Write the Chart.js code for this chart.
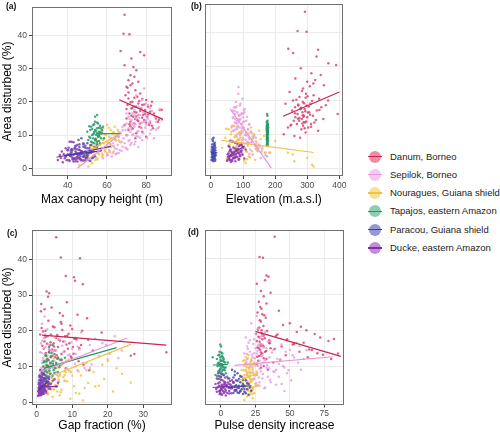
<!DOCTYPE html>
<html>
<head>
<meta charset="utf-8">
<script src="https://cdn.jsdelivr.net/npm/chart.js@4.4.1/dist/chart.umd.min.js"></script>
<style>
  body { margin: 0; background: #fff; width: 500px; height: 434px; position: relative; overflow: hidden;
         font-family: "Liberation Sans", Arial, Helvetica, sans-serif; }
  canvas { position: absolute; }
  .tag { position: absolute; font-weight: bold; font-size: 8.5px; color: #111; line-height: 10px; }
  .key { position: absolute; width: 12px; height: 12px; border-radius: 50%; }
  .key i { position: absolute; left: -1px; right: -1px; top: 5.4px; height: 1.2px; }
  .lab { position: absolute; font-size: 9.5px; color: #222; line-height: 12px; white-space: nowrap; }
</style>
</head>
<body>
<canvas id="pa" width="176" height="210" style="left:0;top:0"></canvas>
<canvas id="pb" width="172" height="210" style="left:176px;top:0"></canvas>
<canvas id="pc" width="176" height="224" style="left:0;top:210px"></canvas>
<canvas id="pd" width="172" height="224" style="left:176px;top:210px"></canvas>
<div class="tag" style="left:6px;top:1px">(a)</div>
<div class="tag" style="left:191px;top:1px">(b)</div>
<div class="tag" style="left:7px;top:228px">(c)</div>
<div class="tag" style="left:188px;top:227px">(d)</div>
<div id="legend"></div>
<script>
// ---- sites ----
var siteNames = ['Danum, Borneo', 'Sepilok, Borneo', 'Nouragues, Guiana shield',
                 'Tapajos, eastern Amazon', 'Paracou, Guiana shield', 'Ducke, eastern Amazon'];
var pointColors = ['rgba(214,60,104,0.8)', 'rgba(233,160,228,0.85)', 'rgba(242,198,72,0.85)',
                   'rgba(40,155,108,0.85)', 'rgba(72,78,174,0.85)', 'rgba(140,60,176,0.85)'];
var lineColors = ['#c5274f', '#e596dc', '#efc340', '#1f9865', '#3a3ea6', '#7c2ea6'];
var keyFills = ['#eb8ea3', '#f4c9f0', '#f8e09a', '#8fcdb2', '#9699d1', '#c38dd6'];

// area disturbed (%) — shared y for every panel; x arrays line up with it
var danumY = [46.2, 40.5, 40.3, 35.3, 35.0, 34.0, 33.0, 31.0, 30.5, 29.5, 28.0, 27.5, 26.5, 25.5, 25.0,
  24.5, 23.5, 22.5, 22.0, 21.5, 21.0, 20.5, 20.0, 20.0, 19.5, 19.0, 19.0, 18.5, 18.5, 18.0, 18.0, 17.5,
  17.5, 17.0, 17.0, 16.5, 16.5, 16.0, 16.0, 15.5, 15.5, 15.0, 15.0, 14.5, 14.5, 14.0, 14.0, 13.5, 13.5,
  13.0, 13.0, 12.5, 12.0, 12.0, 11.5, 11.0, 10.5, 10.0, 9.5, 9.0,
  22.8, 21.2, 20.2, 19.8, 19.2, 18.8, 18.2, 17.8, 17.2, 16.8, 16.2, 15.8, 15.2, 14.8, 14.2, 13.8, 13.2,
  12.8, 12.2, 11.8, 17.6, 16.4, 15.6, 18.6, 14.6, 20.8, 24.2, 26.0, 13.6, 12.6];
var danumHeight = [69, 68.5, 71.5, 67, 77, 79, 72.5, 69, 73.5, 75, 72, 74, 71, 73, 72, 70, 74.5, 77, 69.5,
  75.5, 71, 80, 83, 73, 76, 78, 70.5, 81, 75, 77.5, 72.5, 79.5, 87, 74, 82, 71.5, 84, 76, 78.5, 73.5, 80.5,
  70, 85, 75.5, 79, 72, 86, 77, 74, 81.5, 69, 76.5, 73, 83.5, 71, 78, 75, 70, 80, 74.5,
  71, 74, 76.5, 72, 79, 82.5, 73, 70, 77, 75, 81, 72.5, 78, 74.5, 76, 80, 71.5, 83, 77.5, 73,
  88, 79.5, 75, 74, 86.5, 78, 70.5, 76, 82, 72];
var danumElev = [293, 270, 298, 241, 334, 256, 329, 366, 390, 280, 313, 342, 263, 300, 319, 352, 287, 245,
  296, 320, 276, 337, 256, 365, 286, 310, 232, 272, 298, 344, 262, 292, 279, 330, 253, 306, 285, 270, 395,
  290, 318, 263, 300, 283, 350, 275, 258, 322, 293, 268, 312, 287, 240, 303, 282, 334, 295, 227, 260, 278,
  284, 301, 266, 315, 290, 272, 305, 281, 338, 294, 262, 309, 288, 276, 327, 297, 285, 250, 312, 292,
  280, 302, 286, 358, 271, 295, 308, 325, 289, 248];
var danumGap = [5.5, 6.8, 12.2, 8.2, 10.5, 10.8, 13.0, 2.8, 3.5, 3.2, 8.5, 1.3, 4.2, 1.2, 6.5, 11.5, 14.2,
  6.8, 7.0, 9.5, 5.0, 10.0, 12.8, 2.5, 18.3, 4.0, 1.0, 8.0, 3.0, 5.5, 11.0, 6.2, 14.5, 2.2, 7.5, 9.2, 4.8,
  12.5, 3.8, 6.0, 10.2, 2.0, 8.8, 5.2, 15.8, 3.5, 36.5, 27.5, 7.0, 26.5, 4.5, 9.8, 2.8, 6.5, 11.8, 4.0,
  13.2, 2.5, 8.2, 14.8,
  3.3, 4.6, 7.2, 1.8, 9.0, 5.8, 2.4, 10.6, 6.6, 3.9, 8.4, 1.6, 12.0, 4.4, 7.8, 2.6, 5.6, 9.6, 3.1, 6.9,
  11.2, 2.9, 4.9, 8.6, 3.6, 1.4, 7.4, 2.2, 10.4, 5.2];
var danumPulse = [39, 28, 30.5, 33, 34.5, 32, 26, 29, 36, 31, 27.5, 33, 28.5, 42, 26.5, 30, 32.5, 29, 50,
  45, 58, 27, 62, 29.5, 55, 25.5, 68, 31, 40, 72, 28, 48, 30, 78, 26, 35, 60, 29, 52, 31, 44, 27.5, 36, 66,
  28.5, 57, 32, 85, 30, 47, 29, 63, 33, 80, 27, 38, 26, 31, 29, 34,
  28.2, 30.8, 26.8, 33.5, 29.6, 41, 27.2, 31.8, 35, 28, 53, 30.2, 26.4, 39, 32.8, 29, 74, 27.6, 31, 43,
  82, 35.5, 28.8, 30, 64, 27.8, 31.5, 29.4, 70, 26.2];

var sepilokY = [22.0, 20.5, 19.5, 18.5, 18.0, 17.5, 17.0, 16.5, 16.0, 16.0, 15.5, 15.0, 15.0, 14.5, 14.0,
  14.0, 13.5, 13.5, 13.0, 13.0, 12.5, 12.5, 12.0, 12.0, 11.5, 11.5, 11.0, 11.0, 10.5, 10.5, 10.0, 10.0,
  9.5, 9.5, 9.0, 9.0, 8.5, 8.5, 8.0, 8.0, 7.5, 7.5, 7.0, 7.0, 6.5, 6.5, 6.0, 6.0, 5.5, 5.5, 5.0, 5.0,
  4.5, 4.0, 3.5, 3.0, 12.0, 14.5, 9.0, 16.5,
  19.0, 18.2, 17.2, 16.8, 16.2, 15.8, 15.2, 14.8, 14.2, 13.8, 13.2, 12.8, 12.2, 11.8, 11.2, 10.8, 10.2,
  9.8, 9.2, 8.8, 8.2, 7.8, 7.2, 6.8, 6.2, 5.8, 5.2, 4.8, 4.2, 3.8, 17.8, 15.6, 13.6, 11.6, 9.6, 7.6, 5.6,
  12.4, 10.4, 8.4, 14.4, 6.4, 16.0, 11.4, 9.4, 24.0, 4.6, 13.4, 10.6, 7.4];
var sepilokHeight = [75, 78, 80, 76, 82, 74, 79, 73, 84, 77, 71, 81, 75, 72.5, 79, 85, 70, 76.5, 73.5, 80,
  68, 74, 77.5, 71, 69.5, 82.5, 72, 75.5, 67, 78.5, 70.5, 73, 66, 76, 68.5, 80.5, 64.5, 71.5, 67.5, 74.5,
  63, 69, 65.5, 72, 62, 68, 64, 70, 61, 66.5, 63.5, 59, 65, 60.5, 62.5, 58, 86, 88, 84, 70,
  81, 77, 83, 78.5, 74, 80, 76.5, 71.5, 82, 78, 74.5, 69, 79.5, 72.5, 76, 66.5, 73.5, 70, 77, 64,
  71, 67, 74, 63.5, 69.5, 65, 67.5, 61.5, 64.5, 60, 87, 84.5, 81.5, 85, 75, 72.5, 70.5, 86.5, 82, 78,
  80, 76, 76, 68, 66, 79, 66, 73, 63, 61.5];
var sepilokElev = [85, 98, 78, 90, 72, 105, 68, 82, 95, 75, 88, 100, 70, 92, 80, 110, 86, 74, 96, 120, 84,
  66, 102, 90, 78, 115, 95, 70, 88, 125, 82, 108, 76, 135, 92, 118, 86, 100, 128, 80, 112, 142, 96, 150,
  88, 138, 104, 160, 122, 92, 145, 110, 168, 130, 175, 155, 64, 76, 140, 104,
  92, 80, 102, 74, 96, 86, 112, 68, 90, 104, 78, 118, 84, 98, 72, 124, 92, 106, 80, 132,
  96, 114, 88, 138, 102, 148, 94, 158, 120, 170, 76, 90, 100, 82, 112, 126, 140, 72, 94, 108,
  86, 152, 100, 116, 130, 86, 182, 80, 96, 118];
var sepilokGap = [1.5, 3.0, 12.5, 22, 2.0, 6.5, 8.0, 1.2, 15, 4.5, 2.5, 10, 3.5, 5.5, 1.0, 7.5, 2.2, 11,
  4.0, 17.5, 1.8, 6.0, 3.2, 9.0, 2.8, 5.0, 1.5, 13, 3.8, 7.0, 2.0, 4.8, 1.2, 8.5, 2.6, 11.5, 1.8, 5.5,
  3.0, 1.0, 2.4, 6.5, 1.6, 4.2, 2.0, 3.4, 1.4, 7.8, 2.6, 1.2, 3.6, 1.8, 2.2, 1.0, 3.0, 1.5, 20, 24, 14, 18.5,
  2.4, 5.2, 1.6, 9.8, 3.3, 7.2, 2.1, 12, 4.6, 1.4, 8.8, 2.9, 6.1, 1.7, 3.9, 10.8, 2.3, 5.1, 1.5, 7.9,
  3.1, 1.9, 4.4, 2.5, 1.3, 6.3, 2.7, 1.6, 3.7, 2.1, 16.5, 11.5, 20.5, 8.4, 13.5, 5.8, 3.4, 23, 6.8, 9.6,
  4.1, 1.1, 19.5, 2.6, 4.7, 2.2, 1.9, 9.2, 15.5, 3.6];
var sepilokPulse = [22, 27, 32, 30, 18, 24, 36, 20, 28, 44, 19, 33, 25, 38, 21, 47, 26, 17, 30, 52, 23, 35,
  19, 41, 28, 22, 31, 56, 24, 18, 27, 45, 20, 33, 23, 58, 29, 38, 21, 48, 26, 19, 34, 42, 24, 30, 22, 51,
  28, 36, 20, 44, 26, 32, 23, 46, 60, 50, 40, 55,
  25, 29, 21, 34, 23.5, 27, 31, 19.5, 26.5, 37, 22.5, 29.5, 24.5, 43, 18.5, 26, 33.5, 21.5, 28, 49,
  23, 30.5, 20.5, 27.5, 35.5, 19, 25.5, 40, 22, 31.5, 28.5, 57, 24, 32, 46, 26, 21, 53, 29, 39,
  62, 24, 30, 22, 35, 26, 27, 19, 42, 25];

var nouraguesY = [13.0, 12.5, 12.0, 11.5, 11.0, 10.5, 10.5, 10.0, 10.0, 9.5, 9.5, 9.0, 9.0, 8.5, 8.5, 8.0,
  8.0, 7.5, 7.5, 7.0, 7.0, 6.5, 6.5, 6.0, 6.0, 5.5, 5.5, 5.0, 5.0, 4.5, 4.5, 4.0, 4.0, 3.5, 3.5, 3.0,
  3.0, 2.5, 2.5, 2.0, 1.5, 1.0, 0.5, 4.5, 8.0,
  12.2, 11.2, 10.8, 10.2, 9.8, 9.2, 8.8, 8.2, 7.8, 7.2, 6.8, 6.2, 5.8, 5.2, 4.8, 4.2, 3.8, 3.2, 2.8, 2.2,
  9.6, 8.6, 7.6, 6.6, 5.6, 4.6, 3.6, 11.6, 10.4, 7.4, 6.4, 5.4, 4.4, 8.4, 2.6];
var nouraguesHeight = [60, 64, 58, 62, 66, 57, 63, 59.5, 65, 56, 61, 54.5, 62.5, 58, 64.5, 55, 60, 53, 58.5,
  62, 56.5, 51.5, 60.5, 57, 54, 59, 52, 56, 61.5, 50, 55.5, 58, 53.5, 49, 57.5, 51, 55, 48, 54, 47, 52.5,
  46, 50.5, 63, 66.5,
  61, 57.5, 63.5, 59, 55.5, 62, 58.5, 54, 60.5, 56.5, 52.5, 59.5, 55, 57, 51.5, 56, 53, 49.5, 52, 48.5,
  64, 61.5, 58, 63, 53.5, 60, 50.5, 65.5, 57, 54.5, 61, 51, 57.5, 66, 55];
var nouraguesElev = [95, 70, 125, 55, 150, 88, 110, 62, 135, 78, 165, 100, 45, 120, 85, 140, 68, 95, 175,
  58, 115, 82, 145, 35, 105, 72, 160, 90, 128, 65, 185, 98, 255, 75, 118, 300, 50, 88, 138, 260, 108, 315,
  320, 240, 200,
  80, 102, 64, 118, 92, 74, 130, 86, 60, 108, 96, 70, 140, 84, 112, 58, 98, 122, 76, 104,
  90, 155, 66, 115, 82, 170, 94, 48, 128, 100, 78, 145, 88, 62, 112];
var nouraguesGap = [3.0, 6.0, 2.5, 8.5, 14, 4.5, 18.5, 2.0, 11, 5.5, 22.5, 3.5, 9.0, 1.5, 16, 6.5, 4.0,
  2.8, 12.5, 7.5, 3.2, 5.0, 19, 2.2, 8.0, 4.2, 26.5, 6.0, 3.0, 10.5, 5.5, 13.5, 2.5, 7.0, 4.0, 5.8, 21.5,
  3.2, 12, 6.5, 4.5, 9.5, 13, 16.5, 24,
  4.8, 2.4, 7.2, 3.6, 5.8, 2.2, 9.2, 3.8, 1.8, 6.2, 4.4, 2.6, 8.6, 3.4, 5.2, 1.9, 4.6, 2.9, 6.8, 3.1,
  15, 11.8, 7.9, 5.1, 2.7, 17.5, 4.9, 20, 3.3, 10, 6.1, 14.5, 3.9, 8.1, 11];
var nouraguesPulse = [20, 18, 22, 16, 24, 19, 21, 17, 25, 20, 23, 18, 15, 21, 26, 19, 22, 17, 24, 20, 14,
  21, 18, 23, 16, 19, 22, 20, 25, 18, 21, 17, 23, 19, 15, 22, 20, 18, 24, 21, 19, 23, 17, 28, 26,
  19.5, 21.5, 17.5, 22.5, 18.5, 20.5, 16.5, 23.5, 19, 21, 17, 22, 18, 20, 16, 24, 19.8, 21.8, 17.8, 22.8,
  20.2, 18.2, 24.5, 16.2, 21.2, 19.2, 23, 17.2, 20.8, 18.8, 22.2, 15.5, 25.5, 19.6, 21.6];

var tapajosY = [14.0, 13.5, 13.0, 12.8, 12.5, 12.0, 12.0, 11.5, 11.5, 11.0, 11.0, 10.5, 10.5, 10.0, 10.0,
  10.0, 9.5, 9.5, 9.0, 9.0, 8.5, 8.5, 8.0, 8.0, 7.5, 7.5, 7.0, 7.0, 6.5, 12.5, 11.0, 9.0,
  13.8, 13.2, 12.2, 11.8, 11.2, 10.8, 10.2, 9.8, 9.2, 8.8, 8.2, 7.8, 7.2, 12.6, 11.4, 10.6, 9.6, 8.6, 15.5, 16.0];
var tapajosHeight = [54, 55.5, 53, 56.5, 52, 55, 57, 54, 51.5, 56, 53.5, 55, 57.5, 52.5, 54.5, 56, 51, 55.5,
  53, 57, 54, 50.5, 55, 52, 56.5, 53.5, 51.5, 55, 54, 58, 50, 58.5,
  55, 53.5, 56, 52.5, 54.5, 56.5, 53, 55.5, 51.5, 54, 56, 52.5, 55, 51, 57.5, 53.5, 56, 54.5, 54, 55];
var tapajosElev = [176, 174, 177, 175, 176, 178, 174, 176, 175, 177, 174, 176, 175, 177, 176, 174, 176, 175,
  177, 176, 175, 174, 176, 177, 175, 176, 177, 174, 176, 175, 176, 175,
  175, 177, 176, 174, 175, 177, 176, 175, 174, 176, 177, 175, 176, 174, 177, 176, 175, 176, 176, 175];
var tapajosGap = [3.5, 5.0, 2.5, 4.0, 6.0, 3.0, 7.0, 2.2, 4.5, 3.8, 5.5, 2.8, 6.5, 3.2, 4.2, 1.8, 3.5, 5.2,
  2.5, 4.8, 3.0, 6.0, 2.0, 3.8, 1.5, 4.5, 2.8, 3.5, 2.2, 8.0, 7.5, 2.0,
  4.2, 2.6, 5.8, 3.4, 2.0, 4.6, 3.0, 6.4, 2.4, 3.6, 5.0, 1.9, 3.2, 4.0, 2.8, 5.6, 3.8, 2.4, 3.5, 4.5];
var tapajosPulse = [-1, 1, -2, 0.5, -0.5, 2, -3, 0, 1.5, -1.5, 3, -0.5, 0.8, -2.5, 1, -1, 0.2, 2.5, -0.8,
  1.2, -1.8, 0.5, 3.5, -0.2, 1.8, -4, 0, 4.5, -1, -6, 5, 2,
  0.2, -1.2, 1.6, -0.4, 2.2, -2.2, 0.6, 1.4, -0.6, 2.8, -1.4, 0.4, -2.8, 1.2, 0, -0.2, 3.2, -1.6, 0, -0.5];

var paracouY = [9.0, 8.0, 7.5, 7.0, 6.5, 6.0, 6.0, 5.5, 5.5, 5.0, 5.0, 4.8, 4.5, 4.5, 4.2, 4.0, 4.0, 3.8,
  3.5, 3.5, 3.2, 3.0, 3.0, 2.8, 2.5, 2.5, 2.2, 2.0,
  8.5, 7.2, 6.8, 6.2, 5.8, 5.2, 4.6, 4.4, 4.1, 3.9, 3.6, 3.3, 3.1, 2.9, 2.6, 2.4, 5.3, 4.3, 3.4, 6.4];
var paracouHeight = [47, 42, 50, 45, 48, 43.5, 51, 46, 40, 49, 44, 52, 41.5, 47.5, 45, 50, 43, 48.5, 39,
  46.5, 53, 42.5, 49.5, 44.5, 40.5, 47, 51.5, 43,
  45.5, 48, 44, 49, 42, 47, 50.5, 44.5, 46, 41, 48, 45, 52.5, 43.5, 46.5, 49, 41.5, 47, 50, 46];
var paracouElev = [8, 6, 12, 4, 10, 14, 7, 3, 11, 6, 9, 2, 13, 5, 10, 8, 4, 15, 7, 12, 3, 9, 6, 11, 5, 8,
  13, 7,
  5, 9, 12, 3, 7, 14, 10, 5, 8, 12, 4, 11, 6, 9, 13, 2, 8, 6, 10, 11];
var paracouGap = [1.0, 2.0, 0.8, 1.5, 2.5, 1.2, 3.0, 0.6, 1.8, 1.0, 2.2, 0.9, 1.4, 2.8, 0.7, 1.6, 1.1, 2.0,
  0.8, 1.3, 2.4, 0.6, 1.7, 1.0, 0.9, 1.9, 1.2, 0.7,
  1.4, 0.9, 2.1, 1.1, 2.6, 0.8, 1.5, 1.9, 0.7, 1.2, 2.3, 1.0, 1.6, 0.8, 1.3, 2.0, 3.4, 1.1, 0.9, 1.8];
var paracouPulse = [8, 12, 10, 15, 6, 18, 11, 14, 9, 16, 20, 7, 13, 17, 10, 21, 12, 8, 15, 19, 11, 14, 6,
  17, 13, 9, 16, 20,
  10, 14, 9, 16, 12, 19, 11, 15, 8, 13, 17, 10, 22, 14, 12, 18, 9, 16, 11, 13];

var duckeY = [8.0, 7.5, 7.0, 6.5, 6.5, 6.0, 6.0, 5.5, 5.5, 5.0, 5.0, 4.8, 4.5, 4.5, 4.2, 4.0, 4.0, 3.8,
  3.5, 3.5, 3.2, 3.0, 3.0, 2.8, 2.5, 2.5, 2.2, 2.0, 1.8, 5.5,
  7.8, 7.2, 6.8, 6.2, 5.8, 5.2, 4.9, 4.6, 4.3, 4.1, 3.9, 3.6, 3.4, 3.1, 2.9, 2.7, 2.4, 2.1, 6.4, 5.4,
  4.4, 3.3, 2.6, 5.1, 3.7, 4.7, 3.0, 5.7, 2.3, 4.0];
var duckeHeight = [41, 48, 52, 44, 55, 39, 50, 46, 42.5, 53, 37, 47.5, 44.5, 51, 40, 48.5, 36, 45.5, 54,
  42, 49, 38.5, 46, 43.5, 35, 50.5, 41, 45, 37.5, 57,
  43, 46, 49, 40.5, 44, 51.5, 42, 47, 38, 45, 50, 41.5, 48, 36.5, 43, 46.5, 39.5, 44, 53.5, 40,
  49.5, 44.5, 42.5, 47, 39, 52, 45.5, 45, 48, 41];
var duckeElev = [60, 75, 95, 55, 88, 70, 100, 62, 80, 92, 58, 72, 85, 65, 78, 98, 52, 68, 90, 60, 82, 74,
  56, 104, 66, 86, 50, 76, 62, 108,
  68, 82, 92, 58, 76, 96, 64, 84, 54, 72, 90, 62, 80, 56, 70, 88, 52, 66, 98, 60,
  86, 74, 58, 78, 64, 94, 70, 84, 60, 76];
var duckeGap = [1.5, 2.5, 0.8, 3.5, 1.2, 2.0, 4.5, 1.0, 2.8, 0.6, 1.8, 3.2, 1.4, 5.5, 0.9, 2.2, 1.1, 3.8,
  0.7, 1.6, 2.6, 1.0, 0.5, 1.9, 0.8, 1.3, 0.6, 1.2, 0.4, 6.0,
  2.2, 1.1, 3.0, 0.7, 1.7, 4.0, 0.9, 2.4, 1.3, 0.6, 3.4, 1.5, 2.0, 0.5, 1.0, 2.7, 0.8, 1.4, 5.0, 1.2,
  2.9, 0.8, 1.8, 3.6, 0.6, 1.9, 1.1, 2.5, 0.9, 1.6];
var duckePulse = [-2, 2, 0, 5, -3, 1, 8, -1, 3, 6, -4, 0.5, 2.5, -1.5, 4, 1, -2.5, 7, 0, 3, -0.5, 10, 1.5,
  -3, 4.5, 2, -1, 0.8, 3.5, 9,
  1, -1.5, 3, 0, 6.5, -2, 2, 4, -0.5, 1.5, 5.5, -3.5, 0.5, 3.5, -1, 2.5, 7.5, 0, -2, 5,
  1, 11, -0.5, 3, 0.2, 4.2, -1.2, 2.2, 6, 1.8];

// fitted lines per site, [x1, y1, x2, y2], site order as siteNames
var heightFits = [[66.3, 20.6, 88.6, 14.7], [45, 0, 66.3, 10.1], [52, 5.8, 67, 10.4],
                  [55, 10.4, 67, 10.4], [38, 3.8, 57, 5.2], [34.3, 3.3, 62, 6.6]];
var elevFits = [[225, 15.3, 400, 22.5], [60, 17.5, 188, 0], [33, 8.2, 320, 4.6],
                [175, 8, 178, 13], [0, 4.5, 20, 4.5], [50, 3.3, 105, 6.5]];
var gapFits = [[1.5, 18.8, 36.5, 16], [1, 8.5, 25.5, 18], [4.5, 7.5, 26.5, 16.2],
               [2, 9.5, 22.5, 15.3], [0.5, 3.5, 3.5, 6], [1, 4.4, 6, 4.4]];
var pulseFits = [[25, 19.7, 87, 12.7], [10, 10.2, 81, 12.6], [13, 6, 27, 8],
                 [-6, 10.3, 5, 10.5], [5, 4, 22, 4.5], [-6, 4, 12, 4.5]];

// axis ticks
var yTicks = [0, 10, 20, 30, 40];
var heightTicks = [40, 60, 80];
var elevTicks = [0, 100, 200, 300, 400];
var gapTicks = [0, 10, 20, 30];
var pulseTicks = [0, 25, 50, 75];

var siteY = [danumY, sepilokY, nouraguesY, tapajosY, paracouY, duckeY];
var siteX = {
  height: [danumHeight, sepilokHeight, nouraguesHeight, tapajosHeight, paracouHeight, duckeHeight],
  elev: [danumElev, sepilokElev, nouraguesElev, tapajosElev, paracouElev, duckeElev],
  gap: [danumGap, sepilokGap, nouraguesGap, tapajosGap, paracouGap, duckeGap],
  pulse: [danumPulse, sepilokPulse, nouraguesPulse, tapajosPulse, paracouPulse, duckePulse]
};

var FONT = '"Liberation Sans", Arial, Helvetica, sans-serif';

// ggplot-style panel frame on all four sides
var panelBorder = {
  id: 'panelBorder',
  afterDraw: function(chart) {
    var a = chart.chartArea, ctx = chart.ctx;
    ctx.save();
    ctx.strokeStyle = '#707070';
    ctx.lineWidth = 1;
    ctx.strokeRect(Math.round(a.left) + 0.5, Math.round(a.top) + 0.5,
                   Math.round(a.right - a.left) - 1, Math.round(a.bottom - a.top) - 1);
    ctx.restore();
  }
};

function buildDatasets(key, fits) {
  var ds = [];
  // lines on top
  for (var i = 0; i < fits.length; i++) {
    var f = fits[i];
    ds.push({
      data: [{ x: f[0], y: f[1] }, { x: f[2], y: f[3] }],
      showLine: true, borderColor: lineColors[i], borderWidth: 1.2,
      pointRadius: 0, order: 1
    });
  }
  for (var s = 0; s < siteY.length; s++) {
    var xs = siteX[key][s], pts = [];
    for (var j = 0; j < xs.length; j++) pts.push({ x: xs[j], y: siteY[s][j] });
    ds.push({
      data: pts, pointRadius: 1.25, pointBorderWidth: 0,
      pointBackgroundColor: pointColors[s], order: 10 - s
    });
  }
  return ds;
}

function makePanel(id, o) {
  new Chart(document.getElementById(id), {
    type: 'scatter',
    data: { datasets: buildDatasets(o.key, o.fits) },
    plugins: [panelBorder],
    options: {
      responsive: false, animation: false, events: [],
      layout: { padding: o.pad },
      plugins: { legend: { display: false }, tooltip: { enabled: false } },
      scales: {
        x: {
          type: 'linear', min: o.xmin, max: o.xmax,
          afterBuildTicks: function(s) { s.ticks = o.xTicks.map(function(v) { return { value: v }; }); },
          afterFit: function(s) { s.height = o.xh; },
          grid: { color: '#ebebeb', tickColor: '#444', tickLength: 3 },
          border: { display: false },
          ticks: { color: '#4d4d4d', font: { family: FONT, size: 8.5 }, padding: 1.5, maxRotation: 0, autoSkip: false },
          title: { display: true, text: o.xTitle, color: '#000', font: { family: FONT, size: 12 },
                   padding: { top: 0, bottom: o.tpad } }
        },
        y: {
          type: 'linear', min: o.ymin, max: o.ymax,
          afterBuildTicks: function(s) { s.ticks = yTicks.map(function(v) { return { value: v }; }); },
          afterFit: function(s) { s.width = o.yw; },
          grid: { color: '#ebebeb', tickColor: '#444', tickLength: 3, drawTicks: o.yLabels },
          border: { display: false },
          ticks: { display: o.yLabels, color: '#4d4d4d', font: { family: FONT, size: 8.5 }, padding: 2 },
          title: { display: o.yLabels, text: 'Area disturbed (%)', color: '#000',
                   font: { family: FONT, size: 12 }, padding: { top: 0, bottom: 0 } }
        }
      }
    }
  });
}

makePanel('pa', { key: 'height', fits: heightFits, xTicks: heightTicks, xmin: 21.8, xmax: 93.2,
  ymin: -2.34, ymax: 48.5, xTitle: 'Max canopy height (m)', yLabels: true,
  pad: { top: 2, right: 3, left: 0, bottom: 0 }, yw: 32, xh: 34, tpad: 3 });
makePanel('pb', { key: 'elev', fits: elevFits, xTicks: elevTicks, xmin: -18.5, xmax: 410,
  ymin: -2.34, ymax: 48.5, xTitle: 'Elevation (m.a.s.l)', yLabels: false,
  pad: { top: 2, right: 4, left: 0, bottom: 0 }, yw: 29, xh: 34, tpad: 3 });
makePanel('pc', { key: 'gap', fits: gapFits, xTicks: gapTicks, xmin: -1.31, xmax: 38.1,
  ymin: -0.75, ymax: 48.2, xTitle: 'Gap fraction (%)', yLabels: true,
  pad: { top: 20, right: 3, left: 0, bottom: 0 }, yw: 32, xh: 29, tpad: 1.5 });
makePanel('pd', { key: 'pulse', fits: pulseFits, xTicks: pulseTicks, xmin: -11.6, xmax: 89.3,
  ymin: -0.75, ymax: 48.2, xTitle: 'Pulse density increase', yLabels: false,
  pad: { top: 19.5, right: 4, left: 0, bottom: 0 }, yw: 29, xh: 29.5, tpad: 1.5 });

// legend: point + line key, as ggplot draws it
var legend = document.getElementById('legend');
for (var i = 0; i < siteNames.length; i++) {
  var cy = 156.5 + i * 18.3;
  var key = document.createElement('div');
  key.className = 'key';
  key.style.left = '369px';
  key.style.top = (cy - 6) + 'px';
  key.style.background = keyFills[i];
  var bar = document.createElement('i');
  bar.style.background = lineColors[i];
  key.appendChild(bar);
  legend.appendChild(key);
  var lab = document.createElement('div');
  lab.className = 'lab';
  lab.style.left = '390px';
  lab.style.top = (cy - 6) + 'px';
  lab.textContent = siteNames[i];
  legend.appendChild(lab);
}
</script>
</body>
</html>
